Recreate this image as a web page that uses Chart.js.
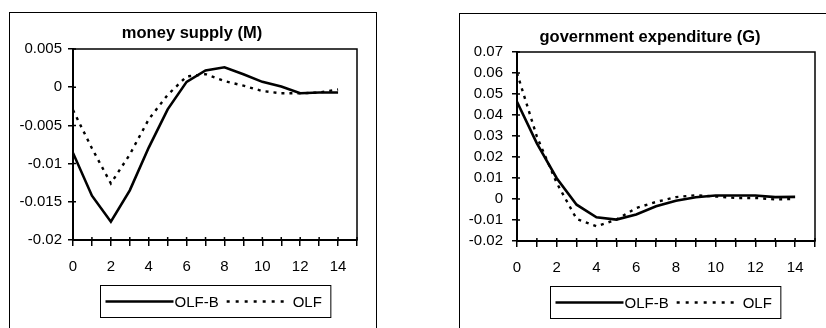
<!DOCTYPE html>
<html>
<head>
<meta charset="utf-8">
<script src="https://cdn.jsdelivr.net/npm/chart.js@4"></script>
<style>
  html, body { margin: 0; padding: 0; background: #fff; width: 826px; height: 328px; overflow: hidden; }
  .panel { position: absolute; border: 1px solid #000; box-sizing: content-box; overflow: hidden; background: #fff; }
  #p1 { left: 9px; top: 12px; width: 366px; height: 330px; }
  #p2 { left: 459px; top: 13px; width: 400px; height: 330px; }
  canvas { position: absolute; left: 0; top: 0; }
</style>
</head>
<body>
<div class="panel" id="p1"><canvas id="c1" width="366" height="315"></canvas></div>
<div class="panel" id="p2"><canvas id="c2" width="380" height="314"></canvas></div>
<script>
// Periods after the shock
const steps = [0, 1, 2, 3, 4, 5, 6, 7, 8, 9, 10, 11, 12, 13, 14];
const seriesNames = ['OLF-B', 'OLF'];

// Response of money supply (M)
const moneyOLFB = [-0.0086, -0.0142, -0.0176, -0.0135, -0.0079, -0.0029, 0.0007, 0.0022, 0.0026, 0.0017, 0.0007, 0.0001, -0.0008, -0.0007, -0.0007];
const moneyOLF  = [-0.0030, -0.0080, -0.0126, -0.0088, -0.0042, -0.0010, 0.0014, 0.0017, 0.0008, 0.0002, -0.0005, -0.0008, -0.0008, -0.0007, -0.0003];

// Response of government expenditure (G)
const govOLFB = [0.0463, 0.0265, 0.0099, -0.0027, -0.0087, -0.0098, -0.0074, -0.0035, -0.0008, 0.0008, 0.0017, 0.0017, 0.0017, 0.0009, 0.0010];
const govOLF  = [0.0600, 0.0297, 0.0076, -0.0095, -0.0130, -0.0098, -0.0043, -0.0014, 0.0009, 0.0018, 0.0012, 0.0005, 0.0005, -0.0002, 0.0000];

// Axis ticks
const moneyTicks = { min: -0.02, max: 0.005, step: 0.005 };
const govTicks = { min: -0.02, max: 0.07, step: 0.01 };
const xTicks = { min: 0, max: 15, step: 1, labelEvery: 2, lastLabel: 14 };

const FONT = '"Liberation Sans", Arial, sans-serif';

function points(arr) {
  return steps.map((s, i) => ({ x: s, y: arr[i] }));
}

// Frame around the plotting area, short inner tick stubs, and a boxed legend under the axis
const framePlugin = {
  id: 'frameAndLegend',
  afterDraw(chart, args, opts) {
    const ctx = chart.ctx;
    const a = chart.chartArea;
    ctx.save();
    ctx.strokeStyle = '#000';
    ctx.lineWidth = 1.5;
    ctx.strokeRect(a.left, a.top, a.right - a.left, a.bottom - a.top);

    // tick marks cross the axis lines slightly
    ctx.lineWidth = 1.5;
    const xs = chart.scales.x, ys = chart.scales.y;
    ctx.beginPath();
    xs.ticks.forEach(t => {
      const px = xs.getPixelForValue(t.value);
      ctx.moveTo(px, a.bottom); ctx.lineTo(px, a.bottom - 3);
    });
    ys.ticks.forEach(t => {
      const py = ys.getPixelForValue(t.value);
      ctx.moveTo(a.left, py); ctx.lineTo(a.left + 3, py);
    });
    ctx.stroke();

    // legend
    ctx.font = '15px ' + FONT;
    ctx.textBaseline = 'middle';
    const sample = 68, dotted = 62, gapText = 1, gapItem = 8, pad = 5;
    const ds = chart.data.datasets;
    const w0 = ctx.measureText(ds[0].label).width;
    const w1 = ctx.measureText(ds[1].label).width;
    const inner = sample + gapText + w0 + gapItem + dotted + gapText + 3 + w1;
    const boxW = inner + pad * 2 + 4;
    const boxH = 32;
    const cx = (a.left + a.right) / 2 + opts.shift;
    const bx = Math.round(cx - boxW / 2) + 0.5;
    const by = Math.round(a.bottom + opts.gap) + 0.5;
    ctx.lineWidth = 1;
    ctx.strokeRect(bx, by, boxW, boxH);
    const my = by + boxH / 2;
    let x = bx + pad;
    ctx.lineWidth = ds[0].borderWidth;
    ctx.setLineDash([]);
    ctx.beginPath(); ctx.moveTo(x, my); ctx.lineTo(x + sample, my); ctx.stroke();
    x += sample + gapText;
    ctx.fillStyle = '#000';
    ctx.fillText(ds[0].label, x, my + 1);
    x += w0 + gapItem;
    ctx.lineWidth = ds[1].borderWidth;
    ctx.setLineDash([3, 6]);
    ctx.beginPath(); ctx.moveTo(x, my); ctx.lineTo(x + dotted, my); ctx.stroke();
    ctx.setLineDash([]);
    x += dotted + gapText + 3;
    ctx.fillText(ds[1].label, x, my + 1);
    ctx.restore();
  }
};

function makeChart(id, title, solid, dotted, yt, cfg) {
  return new Chart(document.getElementById(id), {
    type: 'line',
    data: {
      datasets: [
        { label: seriesNames[0], data: points(solid), borderColor: '#000', borderWidth: 2.6,
          pointRadius: 0, tension: 0, fill: false },
        { label: seriesNames[1], data: points(dotted), borderColor: '#000', borderWidth: 2.4,
          borderDash: [3, 5], pointRadius: 0, tension: 0, fill: false }
      ]
    },
    plugins: [framePlugin],
    options: {
      responsive: false,
      animation: false,
      events: [],
      layout: { padding: { left: 0, right: cfg.padRight, top: 0, bottom: 0 } },
      plugins: {
        legend: { display: false },
        tooltip: { enabled: false },
        title: {
          display: true, text: title, color: '#000',
          font: { family: FONT, size: 16.5, weight: 'bold' },
          padding: { top: cfg.titleTop, bottom: cfg.titleBottom }
        },
        frameAndLegend: { gap: 45, shift: cfg.legendShift }
      },
      scales: {
        x: {
          type: 'linear', min: xTicks.min, max: xTicks.max,
          border: { color: '#000', width: 2 },
          grid: { drawOnChartArea: false, color: '#000', lineWidth: 1.5, tickLength: 6 },
          ticks: {
            stepSize: xTicks.step, autoSkip: false, maxRotation: 0, color: '#000',
            padding: cfg.xPad,
            font: { family: FONT, size: 15 },
            callback: v => (v % xTicks.labelEvery === 0 && v <= xTicks.lastLabel) ? String(v) : ''
          },
          afterFit: s => { s.height = cfg.xHeight; }
        },
        y: {
          type: 'linear', min: yt.min, max: yt.max,
          border: { color: '#000', width: 2 },
          grid: { drawOnChartArea: false, color: '#000', lineWidth: 1.5, tickLength: 5 },
          ticks: {
            stepSize: yt.step, color: '#000', padding: cfg.yPad,
            font: { family: FONT, size: 15 },
            callback: v => String(Number(v.toFixed(4)))
          },
          afterFit: s => { s.width = cfg.yWidth; }
        },
        // empty right-hand margin so the title centres over the whole panel
        margin: {
          type: 'linear', position: 'right', min: 0, max: 1,
          grid: { display: false }, border: { display: false }, ticks: { display: false },
          afterFit: s => { s.width = cfg.rightMargin; }
        }
      }
    }
  });
}

makeChart('c1', 'money supply (M)', moneyOLFB, moneyOLF, moneyTicks,
  { padRight: 2, rightMargin: 17, titleTop: 10.1, titleBottom: 6.1, xHeight: 88, yWidth: 63, xPad: 12, yPad: 6, legendShift: 0 });
makeChart('c2', 'government expenditure (G)', govOLFB, govOLF, govTicks,
  { padRight: 0, rightMargin: 25, titleTop: 13.1, titleBottom: 5.1, xHeight: 87, yWidth: 57, xPad: 12, yPad: 9, legendShift: -1 });
</script>
</body>
</html>
